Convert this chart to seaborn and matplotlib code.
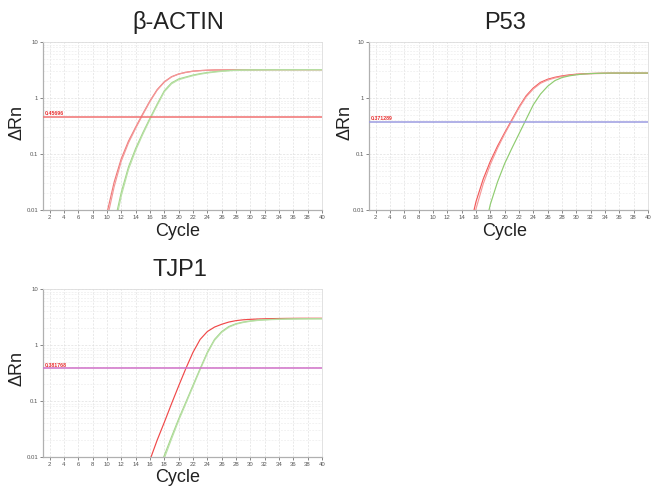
import matplotlib
matplotlib.use("Agg")
import matplotlib.pyplot as plt
import seaborn as sns
import pandas as pd
import numpy as np
from matplotlib.ticker import FixedLocator, NullFormatter, LogLocator

# ---------------- data ----------------
x_ticks = list(range(2, 41, 2))
y_ticks = [0.01, 0.1, 1, 10]
y_tick_labels = ["0.01", "0.1", "1", "10"]

# beta-ACTIN
actin_red1_start = 10
actin_red1 = [0.0089, 0.0316, 0.0832, 0.170, 0.302, 0.525, 0.891, 1.413, 1.95, 2.40, 2.69, 2.88, 3.02,
              3.09, 3.14, 3.17, 3.18, 3.19, 3.2, 3.2, 3.2, 3.2, 3.21, 3.21, 3.21, 3.21, 3.21, 3.21, 3.21,
              3.21, 3.21]
actin_red2_start = 10
actin_red2 = [0.0068, 0.026, 0.075, 0.158, 0.288, 0.505, 0.865, 1.38, 1.92, 2.37, 2.67, 2.86, 3.0,
              3.08, 3.13, 3.16, 3.17, 3.18, 3.18, 3.19, 3.19, 3.19, 3.2, 3.2, 3.2, 3.2, 3.2, 3.2, 3.2,
              3.2, 3.2]
actin_green1_start = 11
actin_green1 = [0.0056, 0.0209, 0.0589, 0.126, 0.240, 0.437, 0.776, 1.35, 1.86, 2.19, 2.37, 2.57, 2.72,
                2.85, 2.95, 3.03, 3.10, 3.14, 3.17, 3.18, 3.19, 3.19, 3.2, 3.2, 3.2, 3.2, 3.2, 3.2, 3.2,
                3.2]
actin_green2_start = 11
actin_green2 = [0.0045, 0.018, 0.053, 0.116, 0.225, 0.415, 0.74, 1.29, 1.79, 2.12, 2.31, 2.5, 2.66,
                2.79, 2.9, 2.99, 3.06, 3.11, 3.14, 3.16, 3.17, 3.18, 3.18, 3.19, 3.19, 3.19, 3.2, 3.2,
                3.2, 3.2]
actin_threshold = 0.45696
actin_threshold_label = "0.45696"

# P53
p53_red1_start = 15
p53_red1 = [0.0040, 0.0141, 0.0355, 0.0741, 0.138, 0.240, 0.407, 0.692, 1.096, 1.514, 1.905, 2.163,
            2.344, 2.483, 2.588, 2.661, 2.710, 2.742, 2.761, 2.773, 2.78, 2.78, 2.78, 2.78, 2.78, 2.78]
p53_red2_start = 15
p53_red2 = [0.0030, 0.0105, 0.029, 0.065, 0.127, 0.228, 0.39, 0.665, 1.05, 1.45, 1.83, 2.09, 2.28,
            2.42, 2.53, 2.61, 2.67, 2.71, 2.73, 2.75, 2.76, 2.76, 2.77, 2.77, 2.77, 2.77]
p53_green_start = 17
p53_green = [0.00355, 0.0126, 0.0316, 0.0676, 0.126, 0.229, 0.417, 0.759, 1.175, 1.622, 2.042, 2.317,
             2.483, 2.600, 2.679, 2.729, 2.761, 2.780, 2.79, 2.79, 2.79, 2.79, 2.79, 2.79]
p53_threshold = 0.371289
p53_threshold_label = "0.371289"

# TJP1
tjp1_red_start = 16
tjp1_red = [0.0089, 0.020, 0.0417, 0.0891, 0.186, 0.380, 0.741, 1.259, 1.738, 2.089, 2.344, 2.570,
            2.723, 2.818, 2.871, 2.911, 2.938, 2.958, 2.972, 2.985, 2.992, 3.0, 3.0, 3.0, 3.0]
tjp1_green1_start = 17
tjp1_green1 = [0.0050, 0.0107, 0.0229, 0.0479, 0.0955, 0.191, 0.380, 0.741, 1.259, 1.738, 2.138, 2.399,
               2.570, 2.692, 2.773, 2.831, 2.871, 2.897, 2.917, 2.931, 2.944, 2.95, 2.95, 2.95]
tjp1_green2_start = 17
tjp1_green2 = [0.0042, 0.0095, 0.0209, 0.0447, 0.0898, 0.181, 0.363, 0.71, 1.21, 1.68, 2.08, 2.35,
               2.52, 2.65, 2.74, 2.8, 2.84, 2.87, 2.89, 2.905, 2.915, 2.92, 2.925, 2.93]
tjp1_threshold = 0.381768
tjp1_threshold_label = "0.381768"

RED = "#f07a7a"
GREEN = "#a3d68a"

panels = [
    dict(title="β-ACTIN", rect=(43, 42, 322, 210),
         series=[(actin_red1_start, actin_red1, RED), (actin_red2_start, actin_red2, "#f39a9a"),
                 (actin_green1_start, actin_green1, GREEN), (actin_green2_start, actin_green2, "#b9e0a6")],
         thr=actin_threshold, thr_label=actin_threshold_label, thr_color="#f07070",
         title_xy=(178, 22), cycle_xy=(178, 231), drn_xy=(17, 122)),
    dict(title="P53", rect=(369, 42, 648, 210),
         series=[(p53_red1_start, p53_red1, "#f25a5a"), (p53_red2_start, p53_red2, "#f59a9a"),
                 (p53_green_start, p53_green, "#8fcc70")],
         thr=p53_threshold, thr_label=p53_threshold_label, thr_color="#9b9be0",
         title_xy=(505, 23), cycle_xy=(505, 231), drn_xy=(345, 122)),
    dict(title="TJP1", rect=(43, 289, 322, 457),
         series=[(tjp1_red_start, tjp1_red, "#f04848"),
                 (tjp1_green1_start, tjp1_green1, GREEN), (tjp1_green2_start, tjp1_green2, "#b9e0a6")],
         thr=tjp1_threshold, thr_label=tjp1_threshold_label, thr_color="#d070c8",
         title_xy=(180, 270), cycle_xy=(178, 477), drn_xy=(17, 368)),
]

# ---------------- drawing ----------------
sns.set_theme(style="white")
plt.rcParams["font.family"] = ["Liberation Sans", "DejaVu Sans"]

W, H = 651, 486
fig = plt.figure(figsize=(W / 100, H / 100), dpi=100)

for p in panels:
    l, t, r, b = p["rect"]
    ax = fig.add_axes([l / W, 1 - b / H, (r - l) / W, (b - t) / H])
    ax.set_yscale("log")
    ax.set_xlim(1.07, 40)
    ax.set_ylim(0.01, 10)

    # grid
    ax.xaxis.set_major_locator(FixedLocator(x_ticks))
    ax.yaxis.set_major_locator(FixedLocator(y_ticks))
    ax.yaxis.set_minor_locator(LogLocator(base=10, subs=np.arange(2, 10)))
    ax.yaxis.set_minor_formatter(NullFormatter())
    ax.grid(True, which="major", color="#e0e0e0", lw=0.5, ls=(0, (3, 2)))
    ax.grid(True, which="minor", axis="y", color="#ebebeb", lw=0.45, ls=(0, (3, 2)))
    ax.set_axisbelow(True)

    for i, (start, vals, col) in enumerate(p["series"]):
        cyc = list(range(start, start + len(vals)))
        df = pd.DataFrame({"Cycle": cyc, "dRn": vals})
        sns.lineplot(data=df, x="Cycle", y="dRn", ax=ax, color=col, lw=0.85,
                     estimator=None, legend=False)

    ax.axhline(p["thr"], color=p["thr_color"], lw=1.1, zorder=3)
    ax.text(1.25, p["thr"] * 1.03, p["thr_label"], fontsize=3.8, color="#e83030",
            va="bottom", ha="left", fontweight="bold")

    ax.set_yticklabels(y_tick_labels)
    ax.set_xticklabels([str(v) for v in x_ticks])
    ax.tick_params(axis="both", which="major", labelsize=4.3, colors="#555555",
                   length=2, width=0.5, pad=1.5, direction="out")
    ax.tick_params(axis="y", which="minor", length=0)
    ax.tick_params(axis="x", bottom=True)
    ax.tick_params(axis="y", left=True)
    ax.set_xlabel("")
    ax.set_ylabel("")
    for s in ["left", "bottom"]:
        ax.spines[s].set_color("#b0b0b0")
        ax.spines[s].set_linewidth(0.9)
    for s in ["top", "right"]:
        ax.spines[s].set_color("#dddddd")
        ax.spines[s].set_linewidth(0.6)

    tx, ty = p["title_xy"]
    fig.text(tx / W, 1 - ty / H, p["title"], fontsize=17, ha="center", va="center", color="#222222")
    cx, cy = p["cycle_xy"]
    fig.text(cx / W, 1 - cy / H, "Cycle", fontsize=13, ha="center", va="center", color="#222222")
    dx, dy = p["drn_xy"]
    fig.text(dx / W, 1 - dy / H, "ΔRn", fontsize=13, ha="center", va="center", rotation=90,
             color="#222222")

fig.savefig("out.png", dpi=100)
